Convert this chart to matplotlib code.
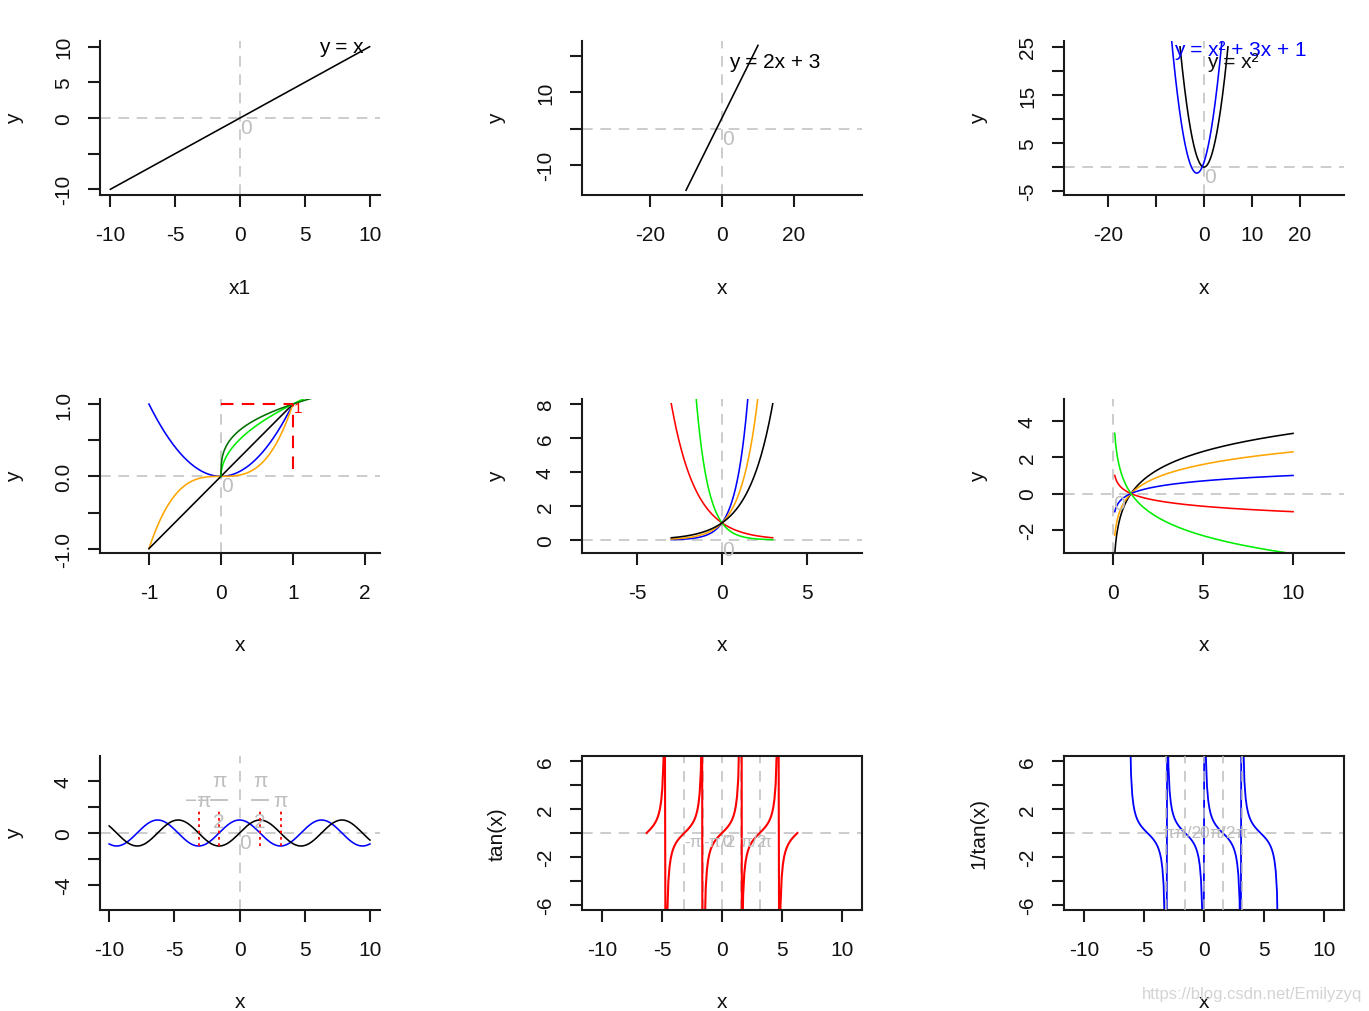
import numpy as np
import matplotlib.pyplot as plt

plt.rcParams['font.family'] = ['Liberation Sans', 'DejaVu Sans']

PI = np.pi

# ---------- data ----------
# row 1: lines and parabolas
x_lin = np.linspace(-10, 10, 201)
y_id = x_lin
y_lin2 = 2 * x_lin + 3
x_sq = np.linspace(-5, 5, 201)
y_sq = x_sq ** 2
x_quad = np.linspace(-10, 10, 401)
y_quad = x_quad ** 2 + 3 * x_quad + 1

# row 2 left: power functions
x_pow = np.linspace(-1, 1, 201)
x_root = np.linspace(0, 1.3, 261)
pow_curves = [
    (x_pow, x_pow ** 2, 'blue'),
    (x_pow, x_pow ** 3, 'orange'),
    (x_pow, x_pow, 'black'),
    (x_root, np.sqrt(x_root), '#00ee00'),
    (x_root, np.cbrt(x_root), '#007000'),
]
unit_h = ([0, 1], [1, 1])
unit_v = ([1, 1], [0.1, 1])

# row 2 middle: exponentials
x_exp = np.linspace(-3, 3, 241)
exp_curves = [
    (0.5 ** x_exp, 'red'),
    (0.25 ** x_exp, '#00ee00'),
    (4.0 ** x_exp, 'blue'),
    (np.exp(x_exp), 'orange'),
    (2.0 ** x_exp, 'black'),
]

# row 2 right: logarithms
x_log = np.linspace(0.1, 10, 400)
log_curves = [
    (np.log2(x_log), 'black'),
    (np.log(x_log), 'orange'),
    (np.log10(x_log), 'blue'),
    (-np.log10(x_log), 'red'),
    (-np.log2(x_log), '#00ee00'),
]

# row 3: trig
x_trig = np.linspace(-10, 10, 401)
y_sin = np.sin(x_trig)
y_cos = np.cos(x_trig)
pi_marks = [-PI, -PI / 2, PI / 2, PI]
pi_sign = ['−', '−', '', '']
pi_is_frac = [False, True, True, False]
mark_lo, mark_hi = -1, 1.7
label_y, num_y, den_y = 2.5, 4.0, 0.9

x_tan = np.linspace(-2 * PI, 2 * PI, 126)
y_tan = np.tan(x_tan)
y_cot = 1 / np.tan(x_tan)
pi_lines = [-PI, -PI / 2, 0, PI / 2, PI]
pi_text = ['-π', '-π/2', '0', 'π/2', 'π']

# ---------- layout ----------
W, H = 1369, 1012
fig = plt.figure(figsize=(W / 100, H / 100), dpi=100)
col_left = [100, 582, 1064]
row_top = [42, 400, 757]
pw, ph = 280, 154
GREY = '#bebebe'
AX = '#1a1a1a'
FS = 15


def make_ax(r, c):
    return fig.add_axes([col_left[c] / W, 1 - (row_top[r] + ph) / H, pw / W, ph / H])


def style(ax, xlim, ylim, xt, xtl, yt, ytl, xlab, ylab, box=False):
    ax.set_xlim(xlim)
    ax.set_ylim(ylim)
    ax.set_xticks(xt)
    ax.set_xticklabels(xtl)
    ax.set_yticks(yt)
    ax.set_yticklabels(ytl, rotation=90, va='center')
    for s in ax.spines.values():
        s.set_linewidth(1.5)
        s.set_color(AX)
    if not box:
        ax.spines['top'].set_visible(False)
        ax.spines['right'].set_visible(False)
    ax.tick_params(axis='both', length=8.5, width=1.5, color=AX, labelsize=FS, labelcolor='#111111')
    ax.tick_params(axis='x', pad=13)
    ax.tick_params(axis='y', pad=11)
    ax.set_xlabel(xlab, fontsize=FS, color='#111111')
    ax.set_ylabel(ylab, fontsize=FS, color='#111111')
    ax.xaxis.label.set_va('center')
    ax.yaxis.label.set_va('center')
    ax.xaxis.set_label_coords(0.5, -92 / ph)
    ax.yaxis.set_label_coords(-85 / pw, 0.5)


def guides(ax, zero=True):
    kw = dict(color=GREY, lw=1.1, dashes=(7, 5), zorder=1)
    ax.axhline(0, **kw)
    ax.axvline(0, **kw)
    if zero:
        ax.text(0, 0, '0', color=GREY, fontsize=FS, ha='left', va='top')


LW = 1.15

# panel 1
ax = make_ax(0, 0)
guides(ax)
ax.plot(x_lin, y_id, color='black', lw=LW)
ax.text(7.8, 10, 'y = x', fontsize=FS, ha='center', va='center')
style(ax, (-10.8, 10.8), (-10.8, 10.8), [-10, -5, 0, 5, 10], ['-10', '-5', '0', '5', '10'],
      [-10, -5, 0, 5, 10], ['-10', '', '0', '5', '10'], 'x1', 'y')

# panel 2
ax = make_ax(0, 1)
guides(ax)
ax.plot(x_lin, y_lin2, color='black', lw=LW)
ax.text(14.6, 18.6, 'y = 2x + 3', fontsize=FS, ha='center', va='center')
style(ax, (-38.9, 38.9), (-18.3, 24.2), [-20, 0, 20], ['-20', '0', '20'],
      [-10, 0, 10, 20], ['-10', '', '10', ''], 'x', 'y')

# panel 3
ax = make_ax(0, 2)
guides(ax)
ax.plot(x_sq, y_sq, color='black', lw=LW)
ax.plot(x_quad, y_quad, color='blue', lw=LW)
ax.text(7.5, 24.4, 'y = x² + 3x + 1', fontsize=FS, color='blue', ha='center', va='center')
ax.text(5.9, 21.9, 'y = x²', fontsize=FS, color='#111111', ha='center', va='center')
style(ax, (-29.2, 29.2), (-5.8, 26.2), [-20, -10, 0, 10, 20], ['-20', '', '0', '10', '20'],
      [-5, 0, 5, 10, 15, 20, 25], ['-5', '', '5', '', '15', '', '25'], 'x', 'y')

# panel 4
ax = make_ax(1, 0)
guides(ax)
for xs, ys, c in pow_curves:
    ax.plot(xs, ys, color=c, lw=LW)
ax.plot(*unit_h, color='red', lw=1.5, dashes=(6, 4))
ax.plot(*unit_v, color='red', lw=1.5, dashes=(6, 4))
ax.text(1.02, 0.95, '1', color='red', fontsize=11, ha='left', va='center')
style(ax, (-1.68, 2.21), (-1.06, 1.07), [-1, 0, 1, 2], ['-1', '0', '1', '2'],
      [-1, -0.5, 0, 0.5, 1], ['-1.0', '', '0.0', '', '1.0'], 'x', 'y')

# panel 5
ax = make_ax(1, 1)
guides(ax)
for ys, c in exp_curves:
    ax.plot(x_exp, ys, color=c, lw=LW)
style(ax, (-8.28, 8.28), (-0.77, 8.28), [-5, 0, 5], ['-5', '0', '5'],
      [0, 2, 4, 6, 8], ['0', '2', '4', '6', '8'], 'x', 'y')

# panel 6
ax = make_ax(1, 2)
guides(ax)
for ys, c in log_curves:
    ax.plot(x_log, ys, color=c, lw=LW)
style(ax, (-2.72, 12.83), (-3.28, 5.22), [0, 5, 10], ['0', '5', '10'],
      [-2, 0, 2, 4], ['-2', '0', '2', '4'], 'x', 'y')

# panel 7
ax = make_ax(2, 0)
guides(ax)
ax.plot(x_trig, y_cos, color='blue', lw=LW)
ax.plot(x_trig, y_sin, color='black', lw=LW)
ax.vlines(pi_marks, mark_lo, mark_hi, colors='red', lw=1.3, linestyles=(0, (1.5, 2)))
half_bar = 0.62
for xm, sign, frac in zip(pi_marks, pi_sign, pi_is_frac):
    if frac:
        # stacked fraction like R's plotmath: pi over 2
        ax.text(xm, num_y, 'π', color=GREY, fontsize=FS, ha='center', va='center')
        ax.text(xm, den_y, '2', color=GREY, fontsize=FS, ha='center', va='center')
        ax.plot([xm - half_bar, xm + half_bar], [label_y, label_y], color=GREY, lw=1.3)
        if sign:
            ax.text(xm - half_bar - 0.1, label_y, sign, color=GREY, fontsize=FS,
                    ha='right', va='center')
    else:
        ax.text(xm, label_y, sign + 'π', color=GREY, fontsize=FS, ha='center', va='center')
style(ax, (-10.7, 10.77), (-5.92, 5.92), [-10, -5, 0, 5, 10], ['-10', '-5', '0', '5', '10'],
      [-4, -2, 0, 2, 4], ['-4', '', '0', '', '4'], 'x', 'y')

# panel 8
ax = make_ax(2, 1)
for xv in pi_lines:
    ax.axvline(xv, color=GREY, lw=1.1, dashes=(7, 5), zorder=1)
ax.axhline(0, color=GREY, lw=1.1, dashes=(7, 5), zorder=1)
ax.plot(x_tan, y_tan, color='red', lw=1.5)
for xv, lab in zip(pi_lines, pi_text):
    ax.text(xv, -0.75, lab, color=GREY, fontsize=12.5, ha='left', va='center')
style(ax, (-11.67, 11.67), (-6.45, 6.45), [-10, -5, 0, 5, 10], ['-10', '-5', '0', '5', '10'],
      [-6, -4, -2, 0, 2, 4, 6], ['-6', '', '-2', '', '2', '', '6'], 'x', 'tan(x)', box=True)

# panel 9
ax = make_ax(2, 2)
for xv in pi_lines:
    ax.axvline(xv, color=GREY, lw=1.1, dashes=(7, 5), zorder=3)
ax.axhline(0, color=GREY, lw=1.1, dashes=(7, 5), zorder=1)
ax.plot(x_tan, y_cot, color='blue', lw=1.3)
for xv, lab in zip(pi_lines, pi_text):
    ax.text(xv, 0, lab, color=GREY, fontsize=12.5, ha='center', va='center')
style(ax, (-11.67, 11.67), (-6.45, 6.45), [-10, -5, 0, 5, 10], ['-10', '-5', '0', '5', '10'],
      [-6, -4, -2, 0, 2, 4, 6], ['-6', '', '-2', '', '2', '', '6'], 'x', '1/tan(x)', box=True)

fig.text(1362 / W, 1 - 995 / H, 'https://blog.csdn.net/Emilyzyq', color='#d4d4d4',
         fontsize=12, ha='right', va='center')

fig.savefig('out.png', dpi=100)
